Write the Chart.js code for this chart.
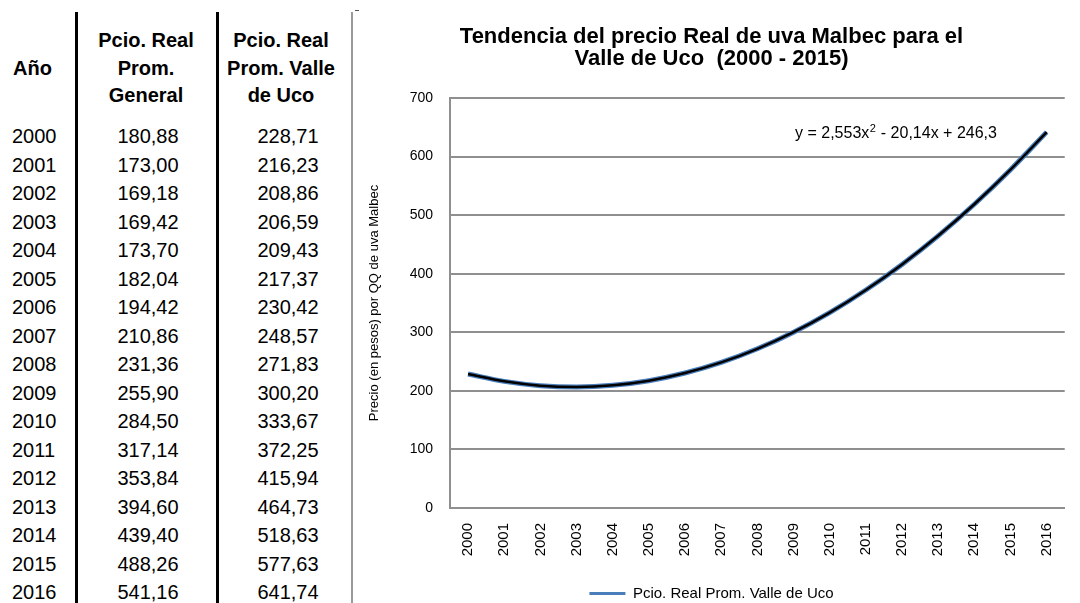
<!DOCTYPE html>
<html>
<head>
<meta charset="utf-8">
<script src="https://cdn.jsdelivr.net/npm/chart.js@4"></script>
<style>
  html, body { margin: 0; padding: 0; background: #fff; }
  body { width: 1080px; height: 603px; position: relative; overflow: hidden; font-family: "Liberation Sans", Arial, sans-serif; color: #000; }
  .cell { position: absolute; font-size: 20px; line-height: 24px; white-space: nowrap; }
  .hd { font-weight: bold; text-align: center; }
  .vline { position: absolute; top: 12px; bottom: 0; }
  #wrap { position: absolute; left: 355px; top: 0; width: 725px; height: 611px; }
</style>
</head>
<body>
<div class="vline" style="left:75px;width:3px;background:#000"></div>
<div class="vline" style="left:216px;width:3px;background:#000"></div>
<div class="vline" style="left:351px;width:2px;background:#9a9a9a"></div>
<div style="position:absolute;left:355px;top:10px;width:4px;height:1px;background:#555"></div>
<div id="table"></div>
<div id="wrap"><canvas id="c" width="725" height="611"></canvas></div>
<script>
const years = ['2000','2001','2002','2003','2004','2005','2006','2007','2008',
  '2009','2010','2011','2012','2013','2014','2015','2016'];
const realGeneral = [180.88,173.00,169.18,169.42,173.70,182.04,194.42,210.86,231.36,
  255.90,284.50,317.14,353.84,394.60,439.40,488.26,541.16];
const realValleUco = [228.71,216.23,208.86,206.59,209.43,217.37,230.42,248.57,271.83,
  300.20,333.67,372.25,415.94,464.73,518.63,577.63,641.74];
const yTicks = [0,100,200,300,400,500,600,700];

const fmt = v => v.toFixed(2).replace('.', ',');

// tabla de la izquierda
const table = document.getElementById('table');
function addCell(txt, left, top, width, cls, align) {
  const d = document.createElement('div');
  d.className = 'cell' + (cls ? ' ' + cls : '');
  d.style.left = left + 'px';
  d.style.top = top + 'px';
  if (width) { d.style.width = width + 'px'; d.style.textAlign = align || 'center'; }
  d.textContent = txt;
  table.appendChild(d);
}
addCell('Año', 13, 56, 0, 'hd');
['Pcio. Real', 'Prom.', 'General'].forEach((t, i) => addCell(t, 86, 28 + i * 27.5, 120, 'hd'));
['Pcio. Real', 'Prom. Valle', 'de Uco'].forEach((t, i) => addCell(t, 221, 28 + i * 27.5, 120, 'hd'));
years.forEach((y, i) => {
  const top = 124 + i * 28.5;
  addCell(y, 12, top);
  addCell(fmt(realGeneral[i]), 88, top, 120);
  addCell(fmt(realValleUco[i]), 228, top, 120);
});

const eqPlugin = {
  id: 'eq',
  afterDatasetsDraw(chart) {
    const { ctx, chartArea } = chart;
    ctx.save();
    ctx.fillStyle = '#000';
    ctx.font = '16px "Liberation Sans", Arial, sans-serif';
    ctx.textBaseline = 'middle';
    let x = chartArea.left + 345;
    const y = chartArea.top + 36;
    const parts = ['y = 2,553x', '2', ' - 20,14x + 246,3'];
    ctx.fillText(parts[0], x, y);
    x += ctx.measureText(parts[0]).width;
    ctx.font = '11px "Liberation Sans", Arial, sans-serif';
    ctx.fillText(parts[1], x + 0.5, y - 5);
    x += ctx.measureText(parts[1]).width + 1;
    ctx.font = '16px "Liberation Sans", Arial, sans-serif';
    ctx.fillText(parts[2], x, y);
    ctx.restore();
  }
};

new Chart(document.getElementById('c'), {
  type: 'line',
  data: {
    labels: years,
    datasets: [
      {
        label: 'Pcio. Real Prom. Valle de Uco',
        data: realValleUco,
        borderColor: '#4a7ebb',
        backgroundColor: '#4a7ebb',
        borderWidth: 5,
        pointRadius: 0,
        tension: 0.4,
        cubicInterpolationMode: 'monotone',
        order: 2
      },
      {
        label: 'Polinómica',
        data: realValleUco,
        borderColor: '#000',
        backgroundColor: '#000',
        borderWidth: 2.5,
        pointRadius: 0,
        tension: 0.4,
        cubicInterpolationMode: 'monotone',
        order: 1
      }
    ]
  },
  options: {
    responsive: false,
    animation: false,
    layout: { padding: { left: 0, right: 12, top: 0, bottom: 0 } },
    plugins: {
      title: {
        display: true,
        text: ['Tendencia del precio Real de uva Malbec para el', 'Valle de Uco  (2000 - 2015)'],
        color: '#000',
        font: { family: 'Liberation Sans', size: 22, weight: 'bold', lineHeight: 1.0 },
        padding: { top: 26, bottom: 28 }
      },
      legend: {
        position: 'bottom',
        labels: {
          color: '#000',
          font: { family: 'Liberation Sans', size: 15 },
          usePointStyle: true,
          pointStyleWidth: 36,
          padding: 4,
          filter: item => item.datasetIndex === 0,
          generateLabels(chart) {
            const items = Chart.defaults.plugins.legend.labels.generateLabels(chart);
            items.forEach(it => { it.lineWidth = 3; it.pointStyle = 'line'; });
            return items;
          }
        }
      },
      tooltip: { enabled: false }
    },
    scales: {
      x: {
        offset: true,
        grid: { display: false, drawTicks: false },
        border: { display: true, color: '#8f8f8f', width: 2 },
        ticks: {
          color: '#000',
          font: { family: 'Liberation Sans', size: 15 },
          minRotation: 90,
          maxRotation: 90,
          padding: 15,
          autoSkip: false
        },
        afterFit(scale) { scale.height = 74; }
      },
      y: {
        min: 0,
        max: 700,
        afterBuildTicks(scale) { scale.ticks = yTicks.map(v => ({ value: v })); },
        grid: { color: '#8f8f8f', lineWidth: 2, drawTicks: false },
        border: { display: true, color: '#8f8f8f', width: 2 },
        ticks: {
          color: '#000',
          font: { family: 'Liberation Sans', size: 14 },
          padding: 17
        },
        title: {
          display: true,
          text: 'Precio (en pesos) por QQ de uva Malbec',
          color: '#000',
          font: { family: 'Liberation Sans', size: 13 },
          padding: { top: 12, bottom: 0 }
        },
        afterFit(scale) { scale.width = 95; }
      }
    }
  },
  plugins: [eqPlugin]
});
</script>
</body>
</html>
